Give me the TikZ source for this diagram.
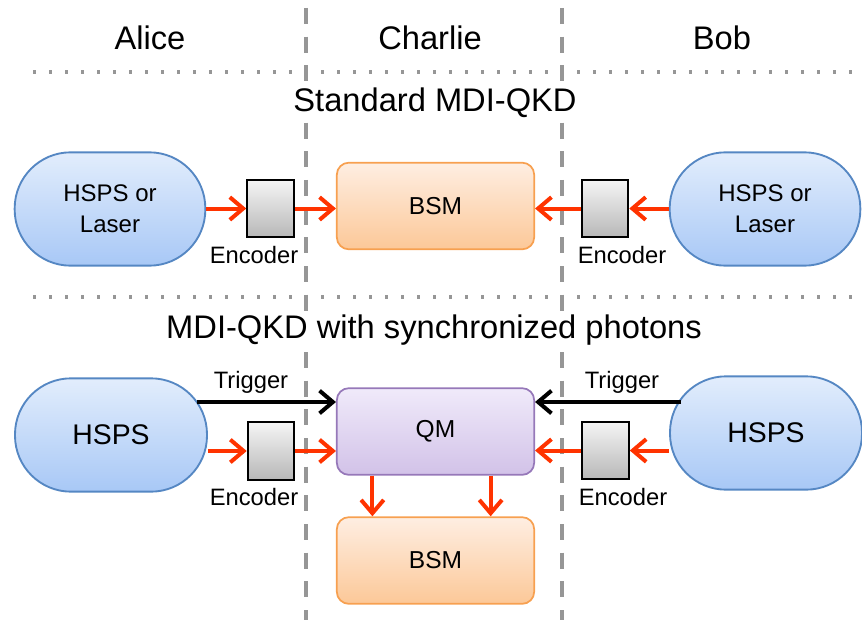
\documentclass[tikz,border=0pt]{standalone}
\usepackage{fontspec}
\setmainfont{Liberation Sans}
\usetikzlibrary{arrows.meta,calc}
\definecolor{arrred}{RGB}{255,51,0}
\definecolor{divgray}{RGB}{150,150,150}
\definecolor{bluetop}{RGB}{226,237,252}
\definecolor{bluebot}{RGB}{168,200,246}
\definecolor{blueedge}{RGB}{85,135,195}
\definecolor{orgtop}{RGB}{254,238,226}
\definecolor{orgbot}{RGB}{252,200,152}
\definecolor{orgedge}{RGB}{247,160,80}
\definecolor{purtop}{RGB}{240,234,250}
\definecolor{purbot}{RGB}{210,194,232}
\definecolor{puredge}{RGB}{150,120,185}
\tikzset{
  source/.style={draw=blueedge, line width=1.4pt, top color=bluetop, bottom color=bluebot,
    minimum width=143pt, minimum height=85pt, rounded corners=42pt, align=center, inner sep=0pt},
  encbox/.style={draw=black, line width=1.4pt, top color=white!96!black, bottom color=white!72!black,
    minimum width=35pt, minimum height=43pt, inner sep=0pt},
  bsmbox/.style={draw=orgedge, line width=1.3pt, top color=orgtop, bottom color=orgbot,
    minimum width=148pt, minimum height=65pt, rounded corners=9pt, font=\fontsize{18.4}{22}\selectfont},
  qmbox/.style={draw=puredge, line width=1.3pt, top color=purtop, bottom color=purbot,
    minimum width=148pt, minimum height=65pt, rounded corners=9pt, font=\fontsize{18.4}{22}\selectfont},
  photon/.style={draw=arrred, line width=3pt, -{Straight Barb[length=10pt,width=17pt,line width=3pt]}},
  trig/.style={draw=black, line width=3pt, -{Straight Barb[length=10pt,width=17pt,line width=3pt]}},
  divider/.style={draw=divgray, line width=3pt, dash pattern=on 12pt off 9.5pt},
  rowline/.style={draw=divgray, line width=2.4pt, dash pattern=on 2.4pt off 9.6pt},
  head/.style={font=\fontsize{24.5}{28}\selectfont},
  small/.style={font=\fontsize{17.8}{21}\selectfont},
}
\begin{document}
\begin{tikzpicture}[x=0.75pt,y=-0.75pt]
\useasboundingbox (0,0) rectangle (862,620);
% dividers
\coordinate (d1t) at (306,8); \coordinate (d1b) at (306,620);
\coordinate (d2t) at (562,8); \coordinate (d2b) at (562,620);
\draw[divider] (d1t) -- (d1b);
\draw[divider] (d2t) -- (d2b);
\coordinate (r1l) at (33,72); \coordinate (r1r) at (862,72);
\coordinate (r2l) at (33,297); \coordinate (r2r) at (862,297);
\draw[rowline] (r1l) -- (r1r);
\draw[rowline] (r2l) -- (r2r);
% headers
\node[head] (alice) at (150,38) {Alice};
\node[head] (charlie) at (430,38) {Charlie};
\node[head] (bob) at (722,38) {Bob};
\node[head, fill=white, inner ysep=1pt] (std) at (435,103) {Standard MDI-QKD};
\node[head, fill=white, inner ysep=1pt] (syn) at (434,330) {MDI-QKD with synchronized photons};
% top row
\node[source, font=\fontsize{18}{23}\selectfont] (la) at (110,209) {HSPS or\\Laser};
\node[encbox] (le) at (270.5,208.5) {};
\node[small] (lel) at (254,255) {Encoder};
\node[bsmbox] (bsm1) at (435.5,206) {BSM};
\node[encbox] (re) at (605,208.5) {};
\node[small] (rel) at (622,255) {Encoder};
\node[source, font=\fontsize{18}{23}\selectfont] (rb) at (765,209) {HSPS or\\Laser};
\draw[photon] (la.east |- le.west) -- (le.west);
\draw[photon] (le.east) -- (le.east -| bsm1.west);
\draw[photon] (rb.west |- re.east) -- (re.east);
\draw[photon] (re.west) -- (re.west -| bsm1.east);
% bottom row
\node[source, minimum width=144pt, font=\fontsize{21.3}{25}\selectfont] (lh) at (111,435) {HSPS};
\node[encbox] (le2) at (271,451) {};
\node[small] (lel2) at (254,497) {Encoder};
\node[qmbox] (qm) at (435.5,431.5) {QM};
\node[bsmbox] (bsm2) at (435.5,560.5) {BSM};
\node[encbox] (re2) at (605.5,450.5) {};
\node[small] (rel2) at (623,497) {Encoder};
\node[source, minimum width=144pt, font=\fontsize{21.3}{25}\selectfont] (rh) at (766,433) {HSPS};
\coordinate (ltrig) at (197,402);
\coordinate (rtrig) at (681,402);
\node[small] (ltl) at (251,382) {Trigger};
\node[small] (rtl) at (622,382) {Trigger};
\draw[trig] (ltrig) -- (ltrig -| qm.west);
\draw[trig] (rtrig) -- (rtrig -| qm.east);
\draw[photon] (lh.east |- le2.west) -- (le2.west);
\draw[photon] (le2.east) -- (le2.east -| qm.west);
\draw[photon] (rh.west |- re2.east) -- (re2.east);
\draw[photon] (re2.west) -- (re2.west -| qm.east);
\coordinate (q1) at ($(qm.south west)!0.183!(qm.south east)$);
\coordinate (q2) at ($(qm.south west)!0.777!(qm.south east)$);
\draw[photon] (q1) -- (q1 |- bsm2.north);
\draw[photon] (q2) -- (q2 |- bsm2.north);
\end{tikzpicture}
\end{document}
